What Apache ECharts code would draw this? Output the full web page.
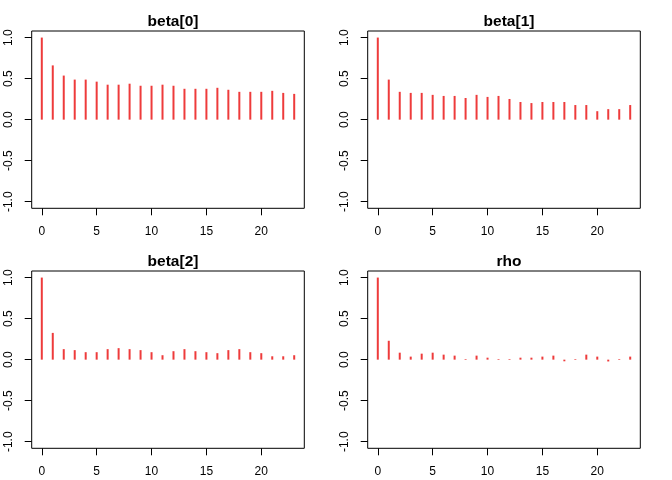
<!DOCTYPE html>
<html>
<head>
<meta charset="utf-8">
<script src="https://cdn.jsdelivr.net/npm/echarts@6/dist/echarts.min.js"></script>
<style>
html,body{margin:0;padding:0;background:#fff;}
#c{width:672px;height:480px;}
</style>
</head>
<body>
<div id="c"></div>
<script>
var titles = ["beta[0]", "beta[1]", "beta[2]", "rho"];
var lags = [0,1,2,3,4,5,6,7,8,9,10,11,12,13,14,15,16,17,18,19,20,21,22,23];
var acfBeta0 = [1.0,0.661,0.537,0.488,0.488,0.463,0.426,0.426,0.438,0.413,0.413,0.426,0.413,0.376,0.376,0.376,0.388,0.364,0.339,0.339,0.339,0.351,0.326,0.314];
var acfBeta1 = [1.0,0.488,0.339,0.326,0.326,0.302,0.289,0.289,0.264,0.302,0.277,0.289,0.252,0.215,0.202,0.215,0.215,0.215,0.178,0.178,0.103,0.128,0.128,0.178];
var acfBeta2 = [1.0,0.326,0.128,0.116,0.091,0.091,0.128,0.140,0.128,0.116,0.091,0.054,0.103,0.128,0.103,0.091,0.079,0.116,0.128,0.091,0.079,0.041,0.041,0.054];
var acfRho = [1.0,0.230,0.085,0.037,0.073,0.085,0.061,0.049,0.008,0.049,0.024,0.008,0.008,0.024,0.024,0.037,0.049,-0.020,0.008,0.061,0.037,-0.022,0.008,0.037];
var xTicks = [0,5,10,15,20];
var yTicks = [-1,-0.5,0,0.5,1];

var allSeries = [acfBeta0, acfBeta1, acfBeta2, acfRho];
var lefts = [31.7, 367.7, 31.7, 367.7];
var tops = [31, 31, 271, 271];
var W = 272.6, H = 177.3;

var grids = [], xAxes = [], yAxes = [], series = [], titleArr = [];
for (var i = 0; i < 4; i++) {
  grids.push({left: lefts[i], top: tops[i], width: W, height: H, show: true,
    borderColor: '#000', borderWidth: 1, backgroundColor: 'transparent', containLabel: false});
  xAxes.push({type: 'value', gridIndex: i, min: -0.92, max: 23.92, position: 'bottom',
    axisLine: {show: false, onZero: false},
    splitLine: {show: false},
    axisTick: {show: true, inside: false, length: 7, lineStyle: {color: '#000', width: 1}, customValues: xTicks},
    axisLabel: {show: true, color: '#000', fontSize: 12, fontFamily: 'Liberation Sans, Arial, sans-serif',
      margin: 17, customValues: xTicks, formatter: function (v) { return String(v); }}
  });
  yAxes.push({type: 'value', gridIndex: i, min: -1.08, max: 1.08, position: 'left',
    axisLine: {show: false, onZero: false},
    splitLine: {show: false},
    axisTick: {show: true, inside: false, length: 7, lineStyle: {color: '#000', width: 1}, customValues: yTicks},
    axisLabel: {show: true, color: '#000', fontSize: 12, fontFamily: 'Liberation Sans, Arial, sans-serif',
      margin: 17, rotate: 90, customValues: yTicks, formatter: function (v) { return v.toFixed(1); }}
  });
  var d = lags.map(function (l, k) { return [l, allSeries[i][k]]; });
  series.push({type: 'bar', xAxisIndex: i, yAxisIndex: i, data: d, barWidth: 2,
    itemStyle: {color: '#EE3B3B'}, silent: true, animation: false});
  titleArr.push({text: titles[i], left: lefts[i] + W / 2, top: tops[i] - 22, textAlign: 'center',
    textStyle: {fontSize: 15.5, fontWeight: 'bold', color: '#000', fontFamily: 'Liberation Sans, Arial, sans-serif'}});
}

var chart = echarts.init(document.getElementById('c'), null, {renderer: 'canvas'});
chart.setOption({
  backgroundColor: '#fff',
  animation: false,
  title: titleArr,
  grid: grids,
  xAxis: xAxes,
  yAxis: yAxes,
  series: series
});
</script>
</body>
</html>
